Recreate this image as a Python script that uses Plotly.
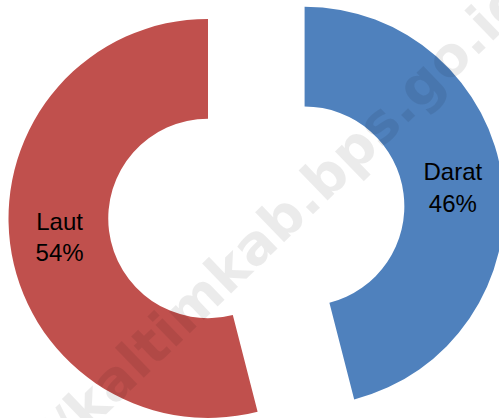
import math
import plotly.graph_objects as go

# ---- data ----
categories = ["Darat", "Laut"]
values = [46, 54]
colors = ["#4F81BD", "#C0504D"]
watermark = "http://kaltimkab.bps.go.id"

# ---- layout geometry (pixels) ----
W, H = 506, 418
R = 199.5          # outer radius of the donut
HOLE = 0.5
CX, CY = 256.3, 212.3   # common centre before exploding
PULL = 0.244       # explode distance as fraction of radius

total = float(sum(values))
fig = go.Figure()
start = 0.0
for i, (cat, val, col) in enumerate(zip(categories, values, colors)):
    frac = val / total
    mid = (start + frac / 2.0) * 2 * math.pi
    start += frac
    cx = CX + PULL * R * math.sin(mid)
    cy = CY - PULL * R * math.cos(mid)
    dom_x = [max(0.0, (cx - R) / W), min(1.0, (cx + R) / W)]
    dom_y = [max(0.0, (H - (cy + R)) / H), min(1.0, (H - (cy - R)) / H)]
    mcolors = [col if j == i else "rgba(0,0,0,0)" for j in range(len(values))]
    texts = ["%{label}<br>%{percent}" if j == i else "" for j in range(len(values))]
    fig.add_trace(go.Pie(
        labels=categories,
        values=values,
        sort=False,
        direction="clockwise",
        rotation=0,
        hole=HOLE,
        marker=dict(colors=mcolors, line=dict(width=0)),
        texttemplate=texts,
        textposition="inside",
        insidetextorientation="horizontal",
        textfont=dict(family="Liberation Sans, Arial, sans-serif", size=24, color="black"),
        domain=dict(x=dom_x, y=dom_y),
        hoverinfo="skip",
        showlegend=False,
    ))

fig.add_annotation(
    text=watermark,
    x=226.9 / W, y=(H - 270.5) / H,
    xref="paper", yref="paper",
    xanchor="center", yanchor="middle",
    textangle=-44,
    showarrow=False,
    font=dict(family="DejaVu Sans", size=55, color="rgba(0,0,0,0.08)", weight="bold"),
)

fig.update_layout(
    width=W, height=H,
    margin=dict(l=0, r=0, t=0, b=0),
    paper_bgcolor="white",
    plot_bgcolor="white",
    showlegend=False,
)

fig.write_html(
    "out.html",
    config={"displayModeBar": False},
    post_script="document.body.style.margin='0';document.body.style.overflow='hidden';",
)
